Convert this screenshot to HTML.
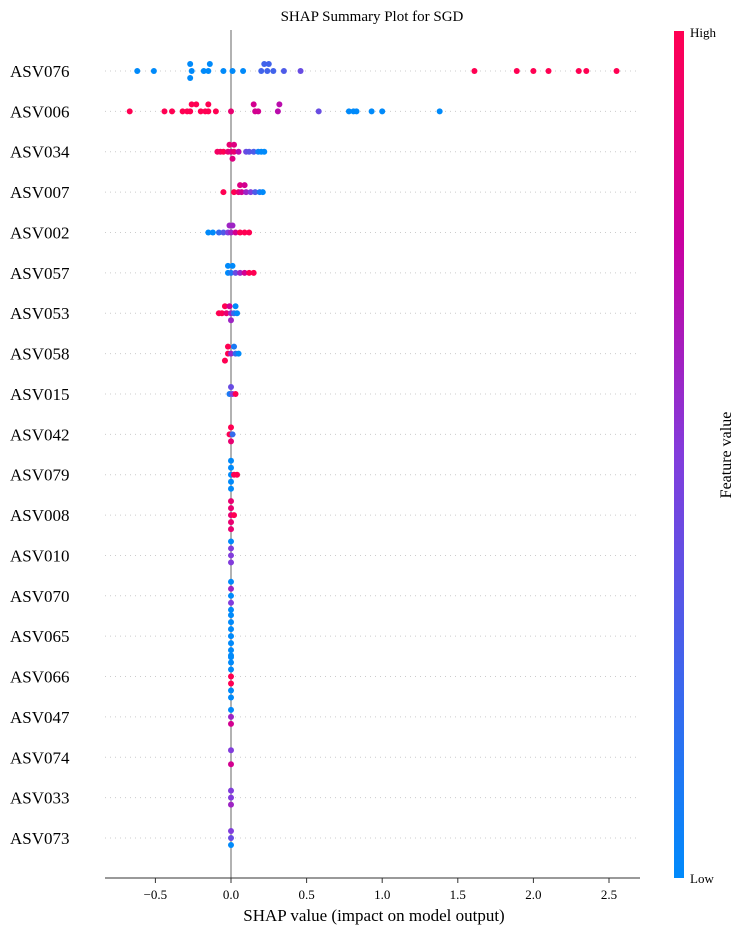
<!DOCTYPE html>
<html><head><meta charset="utf-8"><style>
body{margin:0;background:#fff;}
svg text{font-family:"Liberation Serif",serif;fill:#000;}
</style></head><body>
<svg id="chart" width="745" height="934">
<defs><linearGradient id="cg" x1="0" y1="1" x2="0" y2="0">
<stop offset="0" stop-color="#008afb"/><stop offset="0.5" stop-color="#823cdc"/><stop offset="0.75" stop-color="#c800a0"/><stop offset="1" stop-color="#ff0052"/></linearGradient></defs>
<text x="372" y="21" font-size="15" text-anchor="middle">SHAP Summary Plot for SGD</text>
<g id="rows"></g>
<line x1="231" y1="30" x2="231" y2="878" stroke="#999" stroke-width="1.5"/>
<g id="pts"></g>
<line x1="105" y1="878" x2="640" y2="878" stroke="#333" stroke-width="1"/>
<g id="ticks"></g>
<text x="374" y="921" font-size="17" text-anchor="middle">SHAP value (impact on model output)</text>
<rect x="674" y="31" width="10" height="847" fill="url(#cg)"/>
<text x="690" y="37" font-size="13">High</text>
<text x="690" y="883" font-size="13">Low</text>
<text x="731" y="455" font-size="16" text-anchor="middle" transform="rotate(-90 731 455)">Feature value</text>
</svg>
<script>
const features=["ASV076","ASV006","ASV034","ASV007","ASV002","ASV057","ASV053","ASV058","ASV015","ASV042","ASV079","ASV008","ASV010","ASV070","ASV065","ASV066","ASV047","ASV074","ASV033","ASV073"];
const tickValues=[-0.5,0,0.5,1,1.5,2,2.5];
const tickLabels=["\u22120.5","0.0","0.5","1.0","1.5","2.0","2.5"];
// each point: [shap value, feature value 0..1, stack level]
const r0=[[-0.62,0,0],[-0.51,0,0],[-0.27,0,1],[-0.26,0,0],[-0.27,0,-1],[-0.18,0,0],[-0.14,0,1],[-0.15,0,0],[-0.05,0,0],[0.01,0,0],[0.08,0,0],[0.2,0.25,0],[0.22,0.25,1],[0.25,0.25,1],[0.24,0.25,0],[0.28,0.25,0],[0.35,0.3,0],[0.46,0.4,0],[1.61,1,0],[1.89,1,0],[2.0,1,0],[2.1,1,0],[2.3,1,0],[2.35,1,0],[2.55,1,0]];
const r1=[[-0.67,1,0],[-0.44,1,0],[-0.39,1,0],[-0.32,1,0],[-0.29,1,0],[-0.27,1,0],[-0.26,1,1],[-0.23,1,1],[-0.2,1,0],[-0.17,1,0],[-0.15,1,0],[-0.15,1,1],[-0.1,1,0],[0.0,0.9,0],[0.15,0.8,1],[0.16,0.8,0],[0.18,0.8,0],[0.32,0.7,1],[0.31,0.7,0],[0.58,0.4,0],[0.78,0,0],[0.81,0,0],[0.83,0,0],[0.93,0,0],[1.0,0,0],[1.38,0,0]];
const r2=[[-0.09,0.95,0],[-0.07,0.95,0],[-0.05,1,0],[-0.02,0.9,0],[0.0,0.85,0],[0.02,0.9,0],[0.05,0.7,0],[0.1,0.4,0],[0.12,0.35,0],[0.15,0.3,0],[0.18,0.05,0],[0.2,0,0],[0.22,0,0],[-0.01,0.9,1],[0.02,0.85,1],[0.01,0.85,-1]];
const r3=[[-0.05,1,0],[0.02,1,0],[0.05,0.9,0],[0.07,0.8,0],[0.1,0.6,0],[0.13,0.5,0],[0.16,0.3,0],[0.19,0.1,0],[0.21,0,0],[0.06,0.85,1],[0.09,0.8,1]];
const r4=[[-0.15,0,0],[-0.12,0,0],[-0.08,0.2,0],[-0.05,0.3,0],[-0.02,0.5,0],[0.0,0.6,0],[0.03,0.8,0],[0.06,1,0],[0.09,1,0],[0.12,1,0],[-0.01,0.6,1],[0.01,0.6,1]];
const r5=[[-0.02,0,0],[0.0,0.1,0],[0.03,0.4,0],[0.06,0.6,0],[0.09,0.8,0],[0.12,1,0],[0.15,1,0],[-0.02,0,1],[0.01,0,1]];
const r6=[[-0.08,1,0],[-0.06,1,0],[-0.03,0.9,0],[0.0,0.6,0],[0.02,0.2,0],[0.04,0,0],[-0.04,1,1],[-0.01,0.8,1],[0.03,0,1],[0.0,0.6,-1]];
const r7=[[-0.02,1,0],[0.0,0.6,0],[0.03,0.2,0],[0.05,0,0],[-0.02,1,1],[0.02,0.1,1],[-0.04,1,-1]];
const r8=[[-0.01,0.1,0],[0.01,0.5,0],[0.03,1,0],[0.0,0.4,1]];
const r9=[[-0.01,1,0],[0.01,0.2,0],[0.0,1,1],[0.0,0.9,-1]];
const r10=[[0,0,-2],[0,0,-1],[0,0,0],[0,0,1],[0,0,2],[0.02,1,0],[0.04,1,0]];
const r11=[[0,0.9,-2],[0,0.9,-1],[0,0.9,0],[0,0.9,1],[0,0.9,2],[0.02,1,0]];
const r12=[[0,0.5,-1],[0,0.5,0],[0,0.5,1],[0,0,2]];
const r13=[[0,0,-2],[0,0.5,-1],[0,0,0],[0,0.6,1],[0,0,2]];
const r14=[[0,0,-3],[0,0,-2],[0,0,-1],[0,0,0],[0,0,1],[0,0,2],[0,0,3]];
const r15=[[0,0,-3],[0,0,-2],[0,1,-1],[0,1,0],[0,0,1],[0,0,2],[0,0,3]];
const r16=[[0,0,1],[0,0.6,0],[0,0.8,-1]];
const r17=[[0,0.5,1],[0,0.8,-1]];
const r18=[[0,0.5,1],[0,0.5,0],[0,0.6,-1]];
const r19=[[0,0.5,1],[0,0.4,0],[0,0,-1]];
const rowsData=[r0,r1,r2,r3,r4,r5,r6,r7,r8,r9,r10,r11,r12,r13,r14,r15,r16,r17,r18,r19];

const NS="http://www.w3.org/2000/svg";
const xS=v=>231+v*151.2;
const yS=i=>71+i*40.37;
function col(t){const st=[[0,[0,138,250]],[0.5,[130,60,220]],[0.75,[200,0,160]],[1,[255,0,82]]];
 for(let k=1;k<st.length;k++){if(t<=st[k][0]){const a=st[k-1],b=st[k],f=(t-a[0])/(b[0]-a[0]);
 return "rgb("+a[1].map((c,j)=>Math.round(c+(b[1][j]-c)*f)).join(",")+")";}}return "rgb(255,0,82)";}
const rowsG=document.getElementById('rows'),ptsG=document.getElementById('pts'),tG=document.getElementById('ticks');
features.forEach((f,i)=>{
 const y=yS(i);
 const l=document.createElementNS(NS,'line');
 l.setAttribute('x1',105);l.setAttribute('x2',640);l.setAttribute('y1',y);l.setAttribute('y2',y);
 l.setAttribute('stroke','#ccc');l.setAttribute('stroke-dasharray','1,4');
 
 
 rowsG.appendChild(l);
 const t=document.createElementNS(NS,'text');
 t.setAttribute('x',10);t.setAttribute('y',y+6);t.setAttribute('font-size',17);t.textContent=f;
 
 
 rowsG.appendChild(t);
 rowsData[i].forEach(p=>{
  const c=document.createElementNS(NS,'circle');
  c.setAttribute('cx',xS(p[0]));c.setAttribute('cy',y-p[2]*7);c.setAttribute('r',3);c.setAttribute('fill',col(p[1]));
  
  
  ptsG.appendChild(c);
 });
});
tickValues.forEach((v,k)=>{
 const x=xS(v);
 const l=document.createElementNS(NS,'line');
 l.setAttribute('x1',x);l.setAttribute('x2',x);l.setAttribute('y1',878);l.setAttribute('y2',883);l.setAttribute('stroke','#333');
 
 
 tG.appendChild(l);
 const t=document.createElementNS(NS,'text');
 t.setAttribute('x',x);t.setAttribute('y',899);t.setAttribute('font-size',13);t.setAttribute('text-anchor','middle');t.textContent=tickLabels[k];
 
 
 tG.appendChild(t);
});
</script>
</body></html>
